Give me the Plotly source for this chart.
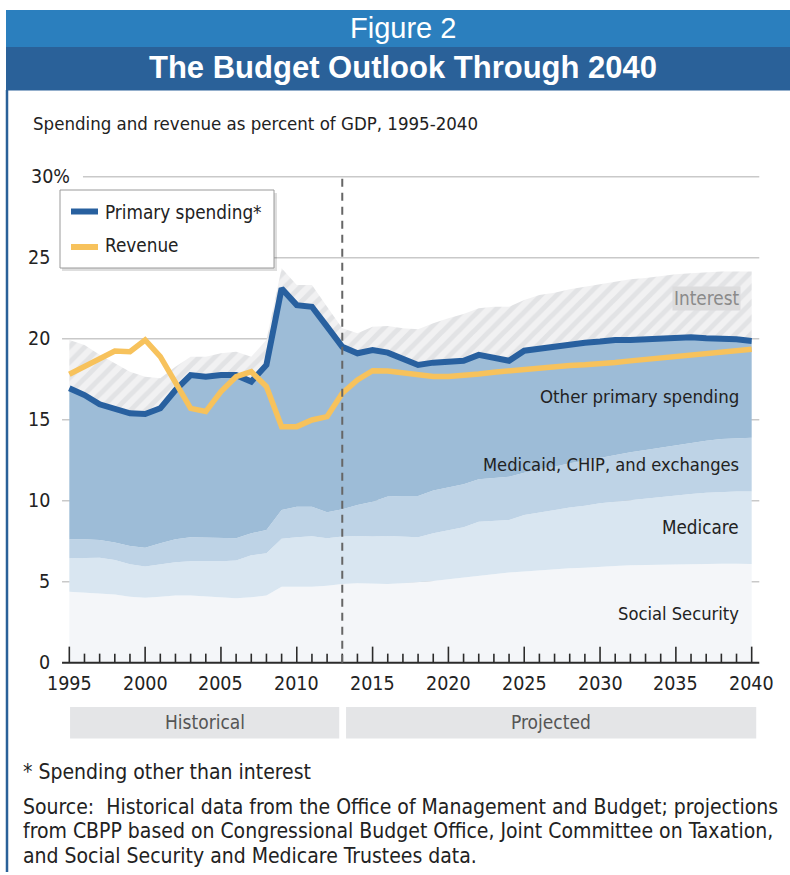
import plotly.graph_objects as go

# ---------------- data ----------------
years = list(range(1995, 2041))

# cumulative layer tops (% of GDP)
social_security_top = [4.38, 4.32, 4.28, 4.20, 4.07, 4.01, 4.07, 4.14, 4.14, 4.07,
                       4.03, 3.97, 4.03, 4.14, 4.69, 4.69, 4.69, 4.75, 4.86, 4.90,
                       4.86, 4.86, 4.90, 4.96, 5.04, 5.15, 5.25, 5.37, 5.46, 5.56,
                       5.62, 5.70, 5.76, 5.83, 5.86, 5.93, 5.97, 6.01, 6.03, 6.07,
                       6.09, 6.11, 6.11, 6.11, 6.11, 6.09]
medicare_top = [6.44, 6.48, 6.48, 6.34, 6.07, 5.93, 6.07, 6.20, 6.26, 6.24,
                6.26, 6.30, 6.63, 6.75, 7.65, 7.74, 7.80, 7.68, 7.78, 7.82,
                7.78, 7.82, 7.78, 7.74, 7.99, 8.19, 8.36, 8.70, 8.77, 8.81,
                9.12, 9.28, 9.43, 9.57, 9.69, 9.84, 9.94, 10.04, 10.15, 10.25,
                10.35, 10.41, 10.49, 10.53, 10.56, 10.56]
medicaid_top = [7.62, 7.62, 7.57, 7.41, 7.20, 7.10, 7.37, 7.62, 7.74, 7.72,
                7.72, 7.68, 7.99, 8.19, 9.43, 9.63, 9.63, 9.28, 9.47, 9.73,
                9.94, 10.25, 10.29, 10.29, 10.62, 10.80, 11.01, 11.32, 11.38, 11.48,
                11.73, 11.94, 12.10, 12.31, 12.47, 12.65, 12.82, 12.99, 13.13, 13.27,
                13.44, 13.58, 13.70, 13.81, 13.85, 13.89]
primary_spending = [16.94, 16.52, 15.95, 15.70, 15.39, 15.35, 15.70, 16.83, 17.75, 17.65,
                    17.75, 17.75, 17.35, 18.38, 23.10, 22.07, 21.97, 20.74, 19.50, 19.10,
                    19.30, 19.14, 18.79, 18.38, 18.52, 18.56, 18.64, 19.00, 18.85, 18.64,
                    19.26, 19.40, 19.50, 19.67, 19.75, 19.82, 19.92, 19.92, 19.96, 20.02,
                    20.02, 20.09, 20.02, 20.02, 19.96, 19.86]
total_spending = [19.92, 19.61, 19.00, 18.48, 17.96, 17.65, 17.55, 18.27, 18.89, 18.89,
                  19.10, 19.20, 18.89, 19.92, 24.34, 23.31, 23.31, 21.97, 20.64, 20.33,
                  20.74, 20.78, 20.64, 20.58, 20.95, 21.26, 21.52, 21.88, 21.97, 21.97,
                  22.39, 22.70, 22.84, 23.05, 23.21, 23.38, 23.52, 23.67, 23.75, 23.87,
                  23.97, 24.04, 24.10, 24.14, 24.14, 24.14]
revenue = [17.80, 18.27, 18.69, 19.24, 19.20, 19.92, 18.89, 17.25, 15.70, 15.50,
           16.73, 17.65, 17.96, 17.04, 14.57, 14.57, 14.98, 15.19, 16.63, 17.45,
           18.02, 18.00, 17.86, 17.72, 17.66, 17.66, 17.72, 17.82, 17.93, 18.03,
           18.10, 18.20, 18.27, 18.35, 18.39, 18.43, 18.53, 18.63, 18.72, 18.82,
           18.90, 19.00, 19.05, 19.10, 19.22, 19.34]

y_ticks = [0, 5, 10, 15, 20, 25, 30]
x_ticks = [1995, 2000, 2005, 2010, 2015, 2020, 2025, 2030, 2035, 2040]
projection_start = 2013

area_labels = ["Interest", "Other primary spending", "Medicaid, CHIP, and exchanges",
               "Medicare", "Social Security"]

# ---------------- layout geometry ----------------
W_FIG, H_FIG = 790, 875
L, R, T, B = 54, 23, 160, 196
PW, PH = W_FIG - L - R, H_FIG - T - B
X_RANGE = [1993.99, 2041.01]
Y_RANGE = [-1.01, 31.03]


def px(xp):
    return (xp - L) / PW


def py(yp):
    return (H_FIG - B - yp) / PH


def yunits(pixels):
    return pixels * (Y_RANGE[1] - Y_RANGE[0]) / PH


NARROW = "DejaVu Sans Condensed, DejaVu Sans, sans-serif"
SANS = "Liberation Sans, Arial, sans-serif"

fig = go.Figure()

# stacked areas
fig.add_trace(go.Scatter(x=years, y=social_security_top, mode="lines", line=dict(width=0),
                         fill="tozeroy", fillcolor="#f4f6f9", hoverinfo="skip"))
fig.add_trace(go.Scatter(x=years, y=medicare_top, mode="lines", line=dict(width=0),
                         fill="tonexty", fillcolor="#d9e6f1", hoverinfo="skip"))
fig.add_trace(go.Scatter(x=years, y=medicaid_top, mode="lines", line=dict(width=0),
                         fill="tonexty", fillcolor="#bed3e6", hoverinfo="skip"))
fig.add_trace(go.Scatter(x=years, y=primary_spending, mode="lines", line=dict(width=0),
                         fill="tonexty", fillcolor="#9dbcd7", hoverinfo="skip"))
fig.add_trace(go.Scatter(x=years, y=total_spending, mode="lines", line=dict(width=0),
                         fill="tonexty", fillcolor="#efeff0",
                         fillpattern=dict(shape="/", bgcolor="#f1f1f2", fgcolor="#d4d5d7",
                                          size=11, solidity=0.45),
                         hoverinfo="skip"))

# axis line and inward ticks built from the years list
ax_x = [X_RANGE[0] + 0.53, X_RANGE[1] - 0.51]
fig.add_trace(go.Scatter(x=ax_x, y=[0, 0], mode="lines",
                         line=dict(color="#2b2b2b", width=2), hoverinfo="skip"))
tx, ty = [], []
for yr in years:
    h = yunits(16) if yr in x_ticks else yunits(9)
    tx += [yr, yr, None]
    ty += [0, h, None]
fig.add_trace(go.Scatter(x=tx, y=ty, mode="lines", line=dict(color="#2b2b2b", width=1.6),
                         hoverinfo="skip"))

# series lines
fig.add_trace(go.Scatter(x=years, y=primary_spending, mode="lines",
                         line=dict(color="#28609f", width=6), name="Primary spending*"))
fig.add_trace(go.Scatter(x=years, y=revenue, mode="lines",
                         line=dict(color="#f7c25c", width=5.5), name="Revenue"))

shapes = []
# gridlines
for v in y_ticks[1:]:
    x0 = 1995.9 if v == 30 else ax_x[0]
    shapes.append(dict(type="line", xref="x", yref="y", x0=x0, x1=ax_x[1], y0=v, y1=v,
                       line=dict(color="#c9c9c9", width=1.5), layer="below"))
# projection divider
shapes.append(dict(type="line", xref="x", yref="y", x0=projection_start, x1=projection_start,
                   y0=0, y1=30, line=dict(color="#666666", width=2, dash="8px,6px"),
                   layer="above"))
# header bands
shapes.append(dict(type="rect", xref="paper", yref="paper", x0=px(6), x1=px(795),
                   y0=py(47), y1=py(10), fillcolor="#2b7fbe", line=dict(width=0)))
shapes.append(dict(type="rect", xref="paper", yref="paper", x0=px(6), x1=px(795),
                   y0=py(90.5), y1=py(47), fillcolor="#2a6199", line=dict(width=0)))
# left border
shapes.append(dict(type="line", xref="paper", yref="paper", x0=px(7), x1=px(7),
                   y0=py(872), y1=py(90), line=dict(color="#2a6199", width=2.5)))
# historical / projected bands
shapes.append(dict(type="rect", xref="x", yref="paper", x0=1995.05, x1=2012.8,
                   y0=py(738.5), y1=py(707), fillcolor="#e4e5e7", line=dict(width=0)))
shapes.append(dict(type="rect", xref="x", yref="paper", x0=2013.25, x1=2040.3,
                   y0=py(738.5), y1=py(707), fillcolor="#e4e5e7", line=dict(width=0)))
# legend box with shadow
shapes.append(dict(type="rect", xref="paper", yref="paper", x0=px(62), x1=px(277),
                   y0=py(271), y1=py(193), fillcolor="rgba(0,0,0,0.13)",
                   line=dict(width=0), layer="above"))
shapes.append(dict(type="rect", xref="paper", yref="paper", x0=px(60), x1=px(274),
                   y0=py(268), y1=py(190), fillcolor="white",
                   line=dict(color="#9a9a9a", width=1), layer="above"))
shapes.append(dict(type="line", xref="paper", yref="paper", x0=px(71), x1=px(98),
                   y0=py(211.5), y1=py(211.5), line=dict(color="#28609f", width=6),
                   layer="above"))
shapes.append(dict(type="line", xref="paper", yref="paper", x0=px(71), x1=px(98),
                   y0=py(247), y1=py(247), line=dict(color="#f7c25c", width=6),
                   layer="above"))

ann = []


def text(x, y, s, size, color="#222222", family=NARROW, xanchor="left", **kw):
    ann.append(dict(x=x, y=y, xref=kw.pop("xref", "paper"), yref=kw.pop("yref", "paper"),
                    text=s, showarrow=False, xanchor=xanchor, yanchor="middle",
                    font=dict(size=size, color=color, family=family), **kw))


# header texts
text(px(403), py(28), "Figure 2", 29, color="white", family=SANS, xanchor="center")
text(px(403), py(68), "<b>The Budget Outlook Through 2040</b>", 31, color="white",
     family=SANS, xanchor="center")
text(px(31), py(123), "Spending and revenue as percent of GDP, 1995-2040", 18.5)

# y tick labels
for v in y_ticks:
    if v == 30:
        text(px(29), v, "30%", 19.5, xanchor="left", yref="y")
    else:
        text(px(52), v, str(v), 19.5, xanchor="right", yref="y")
# x tick labels
for yr in x_ticks:
    text(yr, py(683), str(yr), 19.5, xanchor="center", xref="x")

# legend texts
text(px(103), py(212), "Primary spending*", 18.8)
text(px(103), py(246), "Revenue", 18.8)

# area labels
text(px(741), py(298), area_labels[0], 18.8, color="#8a8a8a", xanchor="right",
     bgcolor="#dcdcdd", borderpad=1)
text(px(741), py(396), area_labels[1], 18.5, xanchor="right")
text(px(741), py(464), area_labels[2], 18.2, xanchor="right")
text(px(741), py(527), area_labels[3], 18.7, xanchor="right")
text(px(741), py(613), area_labels[4], 18.2, xanchor="right")

# period bands
text((1995.05 + 2012.8) / 2, py(722), "Historical", 19, color="#555555",
     xanchor="center", xref="x")
text((2013.25 + 2040.3) / 2, py(722), "Projected", 19, color="#555555",
     xanchor="center", xref="x")

# footnotes
text(px(21), py(772), "* Spending other than interest", 21)
text(px(21), py(807), "Source:  Historical data from the Office of Management and Budget; projections", 21)
text(px(21), py(831), "from CBPP based on Congressional Budget Office, Joint Committee on Taxation,", 21)
text(px(21), py(856), "and Social Security and Medicare Trustees data.", 21)

fig.update_layout(
    width=W_FIG, height=H_FIG,
    margin=dict(l=L, r=R, t=T, b=B, autoexpand=False),
    paper_bgcolor="white", plot_bgcolor="white",
    showlegend=False,
    xaxis=dict(range=X_RANGE, showgrid=False, zeroline=False, showticklabels=False,
               showline=False, ticks=""),
    yaxis=dict(range=Y_RANGE, showgrid=False, zeroline=False, showticklabels=False,
               showline=False, ticks=""),
    shapes=shapes, annotations=ann,
)

fig.write_html("out.html", config={"displayModeBar": False})
